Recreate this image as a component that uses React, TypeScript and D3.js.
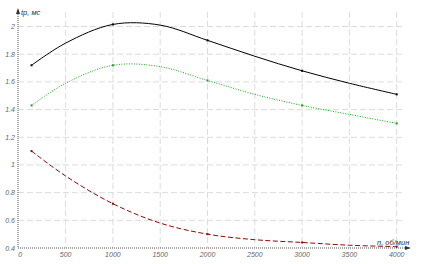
import React from "react";
import * as d3 from "d3";

const nValues = [140, 500, 1000, 1500, 2000, 2500, 3000, 3500, 4000];
const seriesBlack = [1.72, 1.88, 2.015, 2.01, 1.9, 1.785, 1.68, 1.59, 1.51];
const seriesGreen = [1.43, 1.59, 1.72, 1.71, 1.61, 1.51, 1.43, 1.365, 1.3];
const seriesRed = [1.1, 0.92, 0.72, 0.58, 0.5, 0.46, 0.44, 0.42, 0.41];
const xTicks = [0, 500, 1000, 1500, 2000, 2500, 3000, 3500, 4000];
const yTicks = [0.4, 0.6, 0.8, 1, 1.2, 1.4, 1.6, 1.8, 2];
const yLabel = "tр, мс";
const xLabel = "n, об/мин";

const W = 422;
const H = 264;

export default function App() {
  const x = d3.scaleLinear().domain([0, 4000]).range([18.3, 396.7]);
  const y = d3.scaleLinear().domain([0.4, 2]).range([248, 26.5]);
  const mk = (vals: number[]) =>
    d3
      .line<number>()
      .x((_, i) => x(nValues[i]))
      .y((v) => y(v))
      .curve(d3.curveCatmullRom.alpha(0.5))(vals) as string;

  const series = [
    { vals: seriesBlack, color: "#000000", dash: undefined, w: 1 },
    { vals: seriesGreen, color: "#1f9e1f", dash: "1,1.5", w: 1 },
    { vals: seriesRed, color: "#8b0a0a", dash: "5,2.5", w: 1 },
  ];
  const font = "'Liberation Sans', Arial, sans-serif";

  return (
    <svg
      width={W}
      height={H}
      style={{ position: "absolute", left: 0, top: 0, background: "#fff" }}
    >
      {xTicks.slice(1).map((t) => (
        <line
          key={"gx" + t}
          x1={x(t)}
          x2={x(t)}
          y1={12}
          y2={248}
          stroke="#dcdcdc"
          strokeWidth={1}
          strokeDasharray="6,3"
        />
      ))}
      {yTicks.slice(1).map((t) => (
        <line
          key={"gy" + t}
          x1={18}
          x2={405}
          y1={y(t)}
          y2={y(t)}
          stroke="#dcdcdc"
          strokeWidth={1}
          strokeDasharray="6,3"
        />
      ))}
      <line x1={18} x2={410} y1={248} y2={248} stroke="#555" strokeWidth={1} strokeDasharray="1,1" />
      <line x1={18} x2={18} y1={10} y2={248} stroke="#555" strokeWidth={1} strokeDasharray="1,1" />
      <path d="M411,248 L405,246 L405,250 Z" fill="#333" />
      <path d="M18,8 L16,14 L20,14 Z" fill="#333" />
      {series.map((s, i) => (
        <g key={i}>
          <path d={mk(s.vals)} fill="none" stroke={s.color} strokeWidth={s.w} strokeDasharray={s.dash} />
          {[0, 2, 4, 6, 8].map((j) => (
            <rect
              key={j}
              x={x(nValues[j]) - 1}
              y={y(s.vals[j]) - 1}
              width={2}
              height={2}
              fill={s.color}
            />
          ))}
        </g>
      ))}
      {xTicks.map((t) => (
        <text
          key={"tx" + t}
          x={x(t) + (t === 0 ? 2 : 0)}
          y={257}
          fontSize={7}
          fontStyle="italic"
          fill="#666"
          textAnchor="middle"
          fontFamily={font}
        >
          {t}
        </text>
      ))}
      {yTicks.map((t) => (
        <text
          key={"ty" + t}
          x={15}
          y={y(t) + 2.5}
          fontSize={7}
          fontStyle="italic"
          fill="#666"
          textAnchor="end"
          fontFamily={font}
        >
          {String(t)}
        </text>
      ))}
      <text x={21} y={15} fontSize={7.5} fontStyle="italic" fill="#333" fontFamily={font}>
        {yLabel}
      </text>
      <text x={377} y={245} fontSize={7.5} fontStyle="italic" fill="#333" fontFamily={font}>
        {xLabel}
      </text>
    </svg>
  );
}
